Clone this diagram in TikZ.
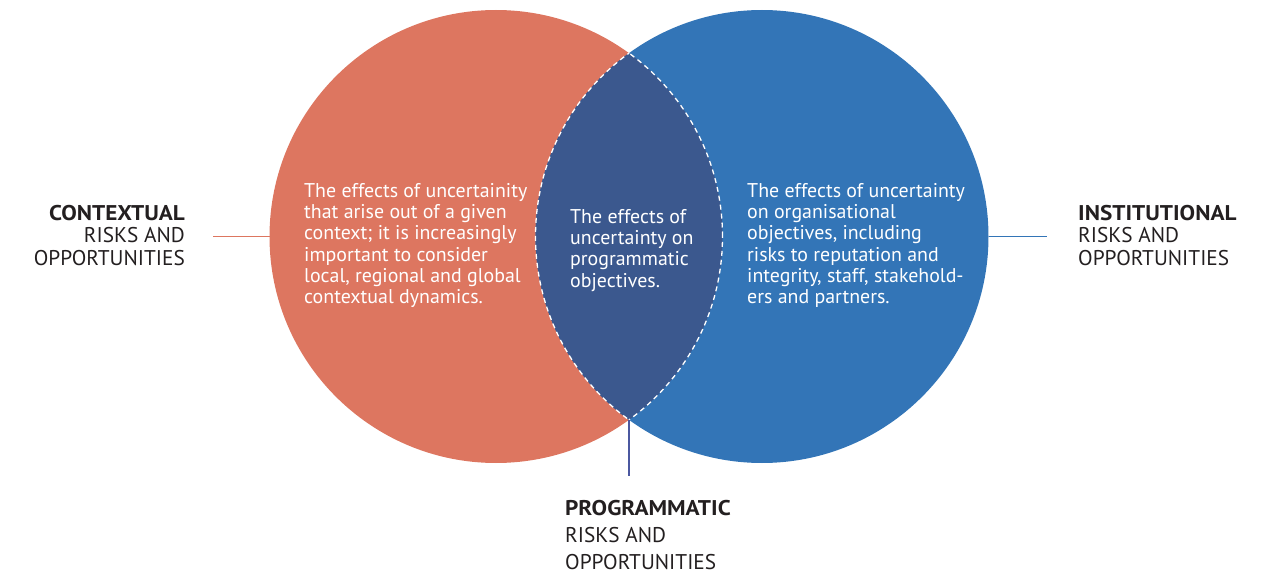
\documentclass[tikz,border=0pt]{standalone}
\usepackage{fontspec}
\setmainfont{PT Sans}[BoldFeatures={FakeStretch=1.09}]
\definecolor{corange}{RGB}{221,118,96}
\definecolor{cblue}{RGB}{51,117,183}
\definecolor{clens}{RGB}{59,88,142}
\definecolor{cline}{RGB}{75,88,160}
\definecolor{ctext}{RGB}{35,31,32}
\begin{document}
\begin{tikzpicture}[x=1pt,y=-1pt,
  venn/.style={circle, minimum size=453pt, inner sep=0pt, outer sep=0pt},
  sidelabel/.style={font=\fontsize{21.3}{22.5}\selectfont, text=ctext, inner sep=0pt},
  innertext/.style={font=\fontsize{19.9}{21.3}\selectfont, text=white, inner sep=0pt, align=left, anchor=north west},
  conn/.style={line width=1.6pt},
  lensborder/.style={white, dash pattern=on 5pt off 4pt, line width=1.3pt}]
\useasboundingbox (0,0) rectangle (1262,575);
% circles
\node[venn, fill=corange] (L) at (496,236.5) {};
\node[venn, fill=cblue] (R) at (762,236.5) {};
\begin{scope}
  \clip (L.center) circle (226.5pt);
  \fill[clens] (R.center) circle (226.5pt);
\end{scope}
\begin{scope}
  \clip (L.center) circle (226.5pt);
  \draw[lensborder] (R.center) circle (226.5pt);
\end{scope}
\begin{scope}
  \clip (R.center) circle (226.5pt);
  \draw[lensborder] (L.center) circle (226.5pt);
\end{scope}
\coordinate (lb) at (629,419.8);
% connector ends
\coordinate (cl) at (213,236.5);
\coordinate (cr) at (1047,236.5);
\coordinate (cb) at (629,476);
\draw[conn, corange] (L.west) -- (cl);
\draw[conn, cblue] (R.east) -- (cr);
\draw[conn, cline] (lb) -- (cb);
% side labels
\node[sidelabel, anchor=north east, align=right] (ctx) at (185,205)
  {\textbf{CONTEXTUAL}\\RISKS AND\\OPPORTUNITIES};
\node[sidelabel, anchor=north west, align=left] (ins) at (1078,205)
  {\textbf{INSTITUTIONAL}\\RISKS AND\\OPPORTUNITIES};
\node[sidelabel, anchor=north west, align=left, font=\fontsize{21.3}{27}\selectfont] (prg) at (565,500)
  {\textbf{PROGRAMMATIC}\\RISKS AND\\OPPORTUNITIES};
% inner texts
\node[innertext] (tl) at (304,183)
  {The effects of uncertainity\\that arise out of a given\\context; it is increasingly\\important to consider\\local, regional and global\\contextual dynamics.};
\node[innertext] (tc) at (570,209)
  {The effects of\\uncertainty on\\programmatic\\objectives.};
\node[innertext] (tr) at (747,183)
  {The effects of uncertainty\\on organisational\\objectives, including\\risks to reputation and\\integrity, staff, stakehold-\\ers and partners.};
\end{tikzpicture}
\end{document}
